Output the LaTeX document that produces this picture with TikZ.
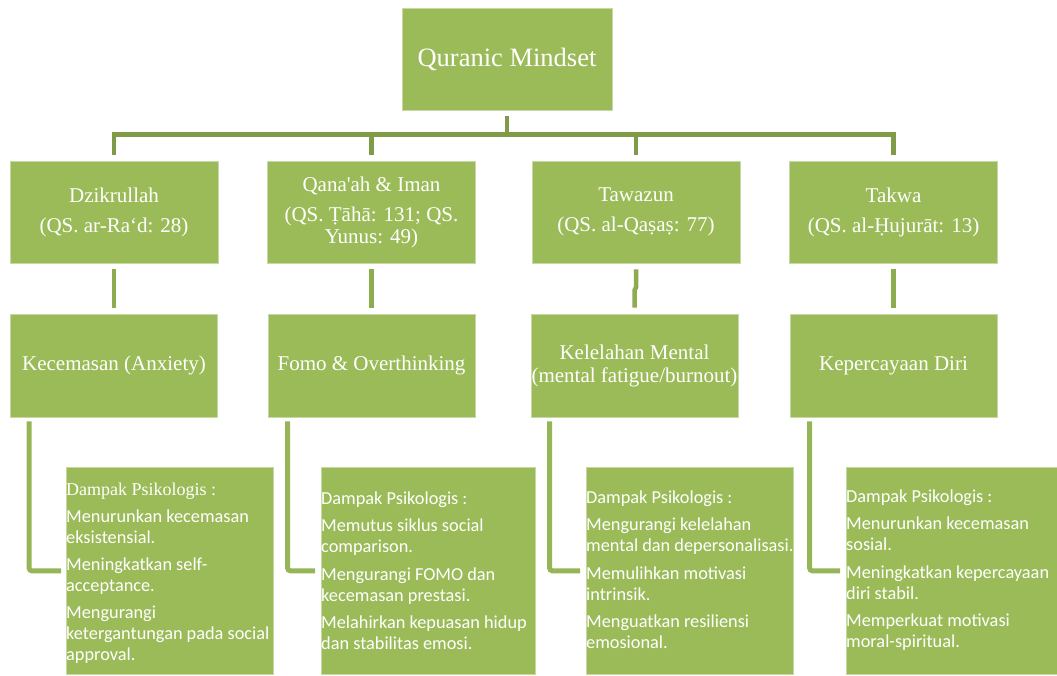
\documentclass[tikz,border=0pt]{standalone}
\usepackage{fontspec}
\setmainfont{Liberation Serif}
\newfontfamily\calfont{Carlito}
\usetikzlibrary{calc}
\definecolor{boxfill}{HTML}{9BBB59}
\definecolor{boxline}{HTML}{C6D9A2}
\definecolor{barcol}{HTML}{7F9B48}
\definecolor{midcol}{HTML}{8DAB4F}
\definecolor{lowcol}{HTML}{96B556}
\newcommand\dbelow[2]{\iffontchar\font"#2 \char"#2\relax\else\ooalign{#1\crcr\hidewidth\raisebox{-0.6ex}{.}\hidewidth}\fi}
\newcommand\lnx[1]{\hbox{#1}}
\newcommand\gapx{\vskip6.5pt}
\tikzset{
  box/.style={rectangle, draw=boxline, line width=0.8pt, fill=boxfill, text=white, inner sep=0pt, align=center},
  lone/.style={box, minimum width=208pt, minimum height=102pt, font=\fontsize{21}{22}\selectfont},
  ltwo/.style={box, minimum width=207pt, minimum height=103pt, font=\fontsize{21}{23}\selectfont},
  lthree/.style={rectangle, draw=boxline, line width=0.8pt, fill=boxfill, inner sep=0pt, anchor=north west, minimum height=207pt},
  lst/.style={text=white, inner sep=0pt, anchor=base west, font=\calfont\fontsize{18.3}{21}\selectfont},
  barline/.style={draw=barcol, line width=4.5pt},
  midline/.style={draw=midcol, line width=4.5pt},
  lowline/.style={draw=lowcol, line width=5pt, rounded corners=3pt},
}
\begin{document}
\begin{tikzpicture}[x=1pt,y=-1pt]
\useasboundingbox (0,0) rectangle (1057,675);
% root
\node[box, minimum width=210pt, minimum height=102pt, font=\fontsize{26.5}{28}\selectfont] (root) at (507,59) {Quranic Mindset};
% level 1
\node[lone] (dz) at (114,212) {Dzikrullah\\[8pt](QS. ar-Ra‘d: 28)};
\node[lone] (qa) at (371.5,212) {Qana\textquotesingle{}ah \& Iman\\[8pt](QS. \dbelow{T}{1E6C}āhā: 131; QS.\\Yunus: 49)};
\node[lone] (tw) at (636,212) {Tawazun\\[8pt](QS. al-Qa\dbelow{s}{1E63}a\dbelow{s}{1E63}: 77)};
\node[lone] (tk) at (893.5,212) {Takwa\\[8pt](QS. al-\dbelow{H}{1E24}ujurāt: 13)};
% level 2
\node[ltwo] (kc) at (114,365.5) {Kecemasan (Anxiety)};
\node[ltwo] (fo) at (371.5,365.5) {Fomo \& Overthinking};
\node[ltwo] (kl) at (634.5,365.5) {Kelelahan Mental\\(mental fatigue/burnout)};
\node[ltwo] (kp) at (893.5,365.5) {Kepercayaan Diri};
% level 3 boxes
\node[lthree, minimum width=207pt] (i1) at (66,467) {};
\node[lthree, minimum width=214pt] (i2) at (321,467) {};
\node[lthree, minimum width=207pt] (i3) at (586,467) {};
\node[lthree, minimum width=211pt] (i4) at (846,467) {};
% level 3 texts
\node[lst] (t1) at ($(i1.north west)+(0,28)$) {\vtop{%
  \lnx{\rmfamily\fontsize{18}{21}\selectfont Dampak Psikologis :}\vskip6pt
  \lnx{Menurunkan kecemasan}\lnx{eksistensial.}\vskip6pt
  \lnx{Meningkatkan self-}\lnx{acceptance.}\vskip6pt
  \lnx{Mengurangi}\lnx{ketergantungan pada social}\lnx{approval.}}};
\node[lst] (t2) at ($(i2.north west)+(0,37)$) {\vtop{%
  \lnx{Dampak Psikologis :}\gapx
  \lnx{Memutus siklus social}\lnx{comparison.}\gapx
  \lnx{Mengurangi FOMO dan}\lnx{kecemasan prestasi.}\gapx
  \lnx{Melahirkan kepuasan hidup}\lnx{dan stabilitas emosi.}}};
\node[lst] (t3) at ($(i3.north west)+(0,36)$) {\vtop{%
  \lnx{Dampak Psikologis :}\gapx
  \lnx{Mengurangi kelelahan}\lnx{mental dan depersonalisasi.}\gapx
  \lnx{Memulihkan motivasi}\lnx{intrinsik.}\gapx
  \lnx{Menguatkan resiliensi}\lnx{emosional.}}};
\node[lst] (t4) at ($(i4.north west)+(0,35)$) {\vtop{%
  \lnx{Dampak Psikologis :}\gapx
  \lnx{Menurunkan kecemasan}\lnx{sosial.}\gapx
  \lnx{Meningkatkan kepercayaan}\lnx{diri stabil.}\gapx
  \lnx{Memperkuat motivasi}\lnx{moral-spiritual.}}};
% root connectors
\coordinate (bar) at ([yshift=26pt]dz.north);
\draw[barline] ([yshift=6pt]dz.north) -- (bar) -- (bar -| tk.north) -- ([yshift=6pt]tk.north);
\draw[barline] ([yshift=-6pt]root.south) -- (bar -| root.south);
\draw[barline] (bar -| qa.north) -- ([yshift=6pt]qa.north);
\draw[barline] (bar -| tw.north) -- ([yshift=6pt]tw.north);
% level 1 to level 2
\draw[midline] ([yshift=-6pt]dz.south) -- ([yshift=6pt]kc.north);
\draw[midline] ([yshift=-6pt]qa.south) -- ([yshift=6pt]fo.north);
\draw[midline] ([yshift=-6pt]tw.south) -- ++(0,18) -- ++(-1.5,3) -- ([yshift=6pt]kl.north);
\draw[midline] ([yshift=-6pt]tk.south) -- ([yshift=6pt]kp.north);
% level 2 to level 3
\draw[lowline, shorten >=5pt] ($(kc.south west)+(19,4)$) |- (i1.west);
\draw[lowline, shorten >=6pt] ($(fo.south west)+(20,4)$) |- (i2.west);
\draw[lowline, shorten >=6pt] ($(kl.south west)+(19,4)$) |- (i3.west);
\draw[lowline, shorten >=6pt] ($(kp.south west)+(20,4)$) |- (i4.west);
\end{tikzpicture}
\end{document}
